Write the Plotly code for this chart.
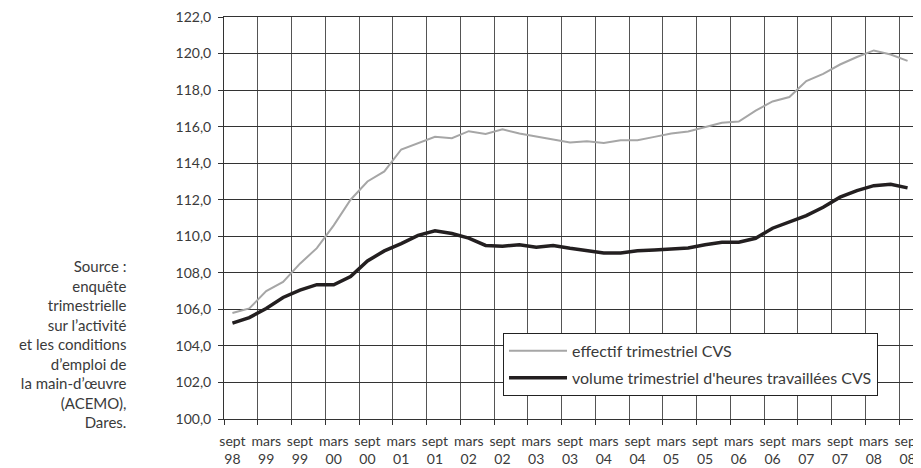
import plotly.graph_objects as go

quarters = ["sept 98", "déc 98", "mars 99", "juin 99", "sept 99", "déc 99", "mars 00", "juin 00",
            "sept 00", "déc 00", "mars 01", "juin 01", "sept 01", "déc 01", "mars 02", "juin 02",
            "sept 02", "déc 02", "mars 03", "juin 03", "sept 03", "déc 03", "mars 04", "juin 04",
            "sept 04", "déc 04", "mars 05", "juin 05", "sept 05", "déc 05", "mars 06", "juin 06",
            "sept 06", "déc 06", "mars 07", "juin 07", "sept 07", "déc 07", "mars 08", "juin 08",
            "sept 08"]

effectif = [105.8, 106.05, 107.0, 107.5, 108.5, 109.35, 110.6, 112.0, 113.0, 113.55,
            114.75, 115.1, 115.45, 115.37, 115.75, 115.6, 115.85, 115.62, 115.45, 115.28,
            115.13, 115.2, 115.11, 115.26, 115.26, 115.44, 115.62, 115.73, 115.95, 116.21,
            116.28, 116.88, 117.38, 117.62, 118.49, 118.89, 119.4, 119.81, 120.17, 119.95,
            119.6]

volume = [105.25, 105.55, 106.05, 106.65, 107.05, 107.35, 107.35, 107.8, 108.65, 109.2,
          109.6, 110.05, 110.3, 110.15, 109.9, 109.5, 109.45, 109.54, 109.4, 109.49,
          109.34, 109.21, 109.09, 109.09, 109.21, 109.25, 109.3, 109.36, 109.54, 109.67,
          109.67, 109.89, 110.44, 110.77, 111.13, 111.59, 112.14, 112.5, 112.77, 112.85,
          112.65]

tick_labels = ["sept<br>98", "mars<br>99", "sept<br>99", "mars<br>00", "sept<br>00",
               "mars<br>01", "sept<br>01", "mars<br>02", "sept<br>02", "mars<br>03",
               "sept<br>03", "mars<br>04", "sept<br>04", "mars<br>05", "sept<br>05",
               "mars<br>06", "sept<br>06", "mars<br>07", "sept<br>07", "mars<br>08",
               "sept<br>08"]

series_names = ["effectif trimestriel CVS", "volume trimestriel d'heures travaillées CVS"]

source_text = ("Source :<br>enquête<br>trimestrielle<br>sur l’activité<br>et les conditions"
               "<br>d’emploi de<br>la main-d’œuvre<br>(ACEMO),<br>Dares.")

x = list(range(len(quarters)))
label_pos = x[::2]
boundaries = [v - 0.5 for v in label_pos]

FONT = "Lato, 'Open Sans', sans-serif"
TXT = "#3a3a3a"

fig = go.Figure()
fig.add_trace(go.Scatter(x=x, y=effectif, mode="lines", name=series_names[0],
                         line=dict(color="#a6a6a6", width=2), legendgroup="a",
                         customdata=quarters, hovertemplate="%{customdata}: %{y:.1f}<extra></extra>"))
fig.add_trace(go.Scatter(x=x, y=volume, mode="lines", name=series_names[1],
                         line=dict(color="#231f20", width=3.5), legendgroup="b",
                         customdata=quarters, hovertemplate="%{customdata}: %{y:.1f}<extra></extra>"))

# The page body adds an 8px offset, so the figure is 913x460 to fill the 921x468 window.
fig.update_layout(
    width=913, height=460,
    margin=dict(l=216, r=5, t=9, b=49, autoexpand=False),
    paper_bgcolor="white", plot_bgcolor="white",
    font=dict(family=FONT, size=14, color=TXT),
    separators=", ",
    showlegend=True,
    legend=dict(x=0.4032, y=0.214, xanchor="left", yanchor="top",
                bgcolor="white", bordercolor="#222", borderwidth=1,
                font=dict(size=16, color=TXT), tracegroupgap=3,
                traceorder="grouped", itemwidth=58),
    annotations=[dict(text=source_text, xref="paper", yref="paper",
                      x=-0.139, y=0.186, xanchor="right", yanchor="middle",
                      align="right", showarrow=False,
                      font=dict(size=15, color=TXT, family=FONT))],
)

fig.update_xaxes(
    range=[-0.5, 40.5], tickmode="array", tickvals=label_pos, ticktext=tick_labels,
    ticks="outside", ticklen=9, tickcolor="rgba(0,0,0,0)",
    showgrid=False, zeroline=False, automargin=False,
    showline=True, linecolor="#333", linewidth=1, mirror=True,
    ticklabeloverflow="allow",
    tickfont=dict(size=14, color=TXT),
    minor=dict(tickmode="array", tickvals=boundaries, ticks="outside", ticklen=5,
               tickcolor="#333", showgrid=True, gridcolor="#555", gridwidth=1),
)
fig.update_yaxes(
    range=[100, 122], tickmode="linear", tick0=100, dtick=2, tickformat=".1f",
    showgrid=True, gridcolor="#333", gridwidth=1, zeroline=False, automargin=False,
    showline=True, linecolor="#333", linewidth=1, mirror=True,
    ticks="outside", ticklen=5, tickcolor="#333",
    ticklabelstandoff=4, ticklabeloverflow="allow",
    tickfont=dict(size=14, color=TXT),
)

fig.write_html("out.html")
